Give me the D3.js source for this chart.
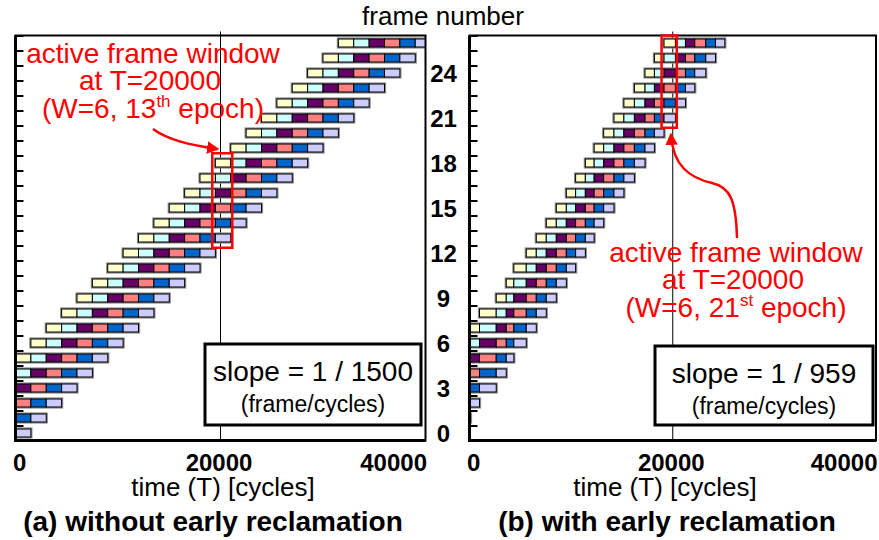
<!DOCTYPE html>
<html>
<head>
<meta charset="utf-8">
<script src="https://cdn.jsdelivr.net/npm/d3@7"></script>
<style>
  body { margin: 0; background: #fff; }
  svg { display: block; font-family: "Liberation Sans", Arial, sans-serif; }
</style>
</head>
<body>
<svg id="chart" width="879" height="540"></svg>
<script>
// frame rows and tick labels
const frames = [0, 1, 2, 3, 4, 5, 6, 7, 8, 9, 10, 11, 12, 13, 14, 15, 16, 17, 18, 19, 20, 21, 22, 23, 24, 25, 26];
const frameTicks = [0, 3, 6, 9, 12, 15, 18, 21, 24];
const timeTicks = [0, 20000, 40000];
const markT = 20000;

// epoch boundaries (cycles)
const epochA = [0, 1500, 3000, 4500, 6000, 7500, 9000, 10500, 12000, 13500, 15000, 16500, 18000, 19500,
  21000, 22500, 24000, 25500, 27000, 28500, 30000, 31500, 33000, 34500, 36000, 37500, 39000, 40500];
const epochB = [0, 100, 985, 2630, 3616, 4364, 5586, 6571, 7556, 8542, 9527, 10443, 11399, 12266,
  13202, 14216, 15192, 16226, 17270, 18196, 19142, 20265, 21251, 22167, 23251, 24206, 25123];

// active window annotations: [from, to] cycles, [lowest, highest] frame
const windowTimeA = [19200, 21150];
const windowFrameA = [13, 18];
const windowTimeB = [18900, 20400];
const windowFrameB = [21, 26];

const stageColors = ["#ffffcc", "#ccffff", "#660066", "#ff8080", "#0066cc", "#ccccff"];

const svg = d3.select("#chart");
const defs = svg.append("defs");
defs.append("marker")
    .attr("id", "head")
    .attr("viewBox", "0 0 10 10")
    .attr("refX", 8).attr("refY", 5)
    .attr("markerWidth", 5).attr("markerHeight", 5)
    .attr("orient", "auto")
    .append("path").attr("d", "M0,0L10,5L0,10z").attr("fill", "#ff0000");

const y = d3.scaleLinear().domain([-0.5, 26.5]).range([440.5, 35.5]);
const barH = 8;

const panels = [
    {
        id: "a", x0: 15.5, x1: 425.5, epochs: epochA, lag: 5,
        win: windowTimeA, winF: windowFrameA,
        note: { cx: 153, y: 63, n: "13", sup: "th" },
        arrow: "M153,129 C168,140 190,145 217,149",
        box: { x: 205, y: 344, w: 216, h: 81 }, slope: "slope = 1 / 1500",
        label: 223, title: "(a) without early reclamation", titleX: 213
    },
    {
        id: "b", x0: 469.5, x1: 876, epochs: epochB, lag: 6,
        win: windowTimeB, winF: windowFrameB,
        note: { cx: 736, y: 262, n: "21", sup: "st" },
        arrow: "M737,238 C736,200 730,187 712,183 C690,178 673,166 671,135",
        box: { x: 655, y: 346, w: 218, h: 79 }, slope: "slope = 1 / 959",
        label: 665, title: "(b) with early reclamation", titleX: 667
    }
];

panels.forEach(p => {
    const x = d3.scaleLinear().domain([0, 40000]).range([p.x0, p.x1]);
    const top = y.range()[1], bottom = y.range()[0];

    defs.append("clipPath").attr("id", "clip-" + p.id)
        .append("rect").attr("x", p.x0).attr("y", top).attr("width", p.x1 - p.x0).attr("height", bottom - top);

    const g = svg.append("g");

    // T = 20000 marker line
    g.append("line")
        .attr("x1", x(markT)).attr("x2", x(markT))
        .attr("y1", top - 4).attr("y2", bottom)
        .attr("stroke", "#000").attr("stroke-width", 1);

    // bars: frame f, stage j spans epoch k = f + j - lag
    const bars = g.append("g").attr("clip-path", `url(#clip-${p.id})`);
    frames.forEach(f => {
        const segs = [];
        stageColors.forEach((c, j) => {
            const k = f + j - p.lag;
            if (k < 0 || k + 1 >= p.epochs.length) return;
            segs.push({ a: p.epochs[k], b: p.epochs[k + 1], c: c });
        });
        if (!segs.length) return;
        const yc = y(f);
        bars.append("rect")
            .attr("x", x(segs[0].a)).attr("y", yc - barH / 2)
            .attr("width", x(segs[segs.length - 1].b) - x(segs[0].a)).attr("height", barH)
            .attr("fill", "none").attr("stroke", "#8a8a8a").attr("stroke-width", 3.2);
        bars.selectAll(null).data(segs).enter().append("rect")
            .attr("x", d => x(d.a)).attr("y", yc - barH / 2)
            .attr("width", d => x(d.b) - x(d.a)).attr("height", barH)
            .attr("fill", d => d.c).attr("stroke", "#000").attr("stroke-width", 1);
    });

    // ticks on the left axis, between frame rows
    g.append("g").attr("transform", `translate(${p.x0},0)`)
        .call(d3.axisRight(y).tickValues([-0.5].concat(frames.map(f => f + 0.5))).tickSize(8).tickFormat(""))
        .call(s => s.select(".domain").remove())
        .selectAll("line").attr("stroke", "#000").attr("stroke-width", 2);

    // plot frame
    g.append("rect").attr("x", p.x0).attr("y", top).attr("width", p.x1 - p.x0).attr("height", bottom - top)
        .attr("fill", "none").attr("stroke", "#000").attr("stroke-width", 2);
    g.append("path").attr("d", `M${p.x0},${top}V${bottom}H${p.x1}`)
        .attr("fill", "none").attr("stroke", "#000").attr("stroke-width", 3);

    // x axis labels
    const xa = g.append("g").attr("transform", `translate(0,${bottom})`)
        .call(d3.axisBottom(x).tickValues(timeTicks).tickSize(0).tickPadding(13).tickFormat(d3.format("d")));
    xa.select(".domain").remove();
    xa.selectAll("text")
        .attr("font-size", 24).attr("font-weight", "bold").attr("font-family", null).attr("fill", "#000")
        .attr("text-anchor", (d, i) => i === 0 ? "start" : i === timeTicks.length - 1 ? "end" : "middle")
        .attr("x", (d, i) => i === 0 ? -3 : i === timeTicks.length - 1 ? 1 : -2);

    if (p.id === "b") {
        const ya = g.append("g").attr("transform", `translate(${p.x0},0)`)
            .call(d3.axisLeft(y).tickValues(frameTicks).tickSize(0));
        ya.select(".domain").remove();
        ya.selectAll("text")
            .attr("font-size", 24).attr("font-weight", "bold").attr("font-family", null).attr("fill", "#000")
            .attr("text-anchor", "middle").attr("x", -26).attr("dy", "0.36em");
    }

    // active frame window
    g.append("rect")
        .attr("x", x(p.win[0])).attr("y", Math.max(top, y(p.winF[1] + 0.65)))
        .attr("width", x(p.win[1]) - x(p.win[0]))
        .attr("height", y(p.winF[0] - 0.65) - Math.max(top, y(p.winF[1] + 0.65)))
        .attr("fill", "none").attr("stroke", "#ff0000").attr("stroke-width", 2.5);

    // red note and arrow
    const note = g.append("g").attr("fill", "#ff0000").attr("font-size", 28).attr("text-anchor", "middle");
    note.append("text").attr("x", p.note.cx).attr("y", p.note.y).text("active frame window");
    note.append("text").attr("x", p.note.cx - 3).attr("y", p.note.y + 27).text("at T=20000");
    const t3 = note.append("text").attr("x", p.note.cx).attr("y", p.note.y + 55);
    t3.append("tspan").text("(W=6, " + p.note.n);
    t3.append("tspan").attr("font-size", 17).attr("dy", -11).text(p.note.sup);
    t3.append("tspan").attr("dy", 11).text(" epoch)");
    g.append("path").attr("d", p.arrow)
        .attr("fill", "none").attr("stroke", "#ff0000").attr("stroke-width", 2.5)
        .attr("marker-end", "url(#head)");

    // slope box
    const b = p.box;
    g.append("rect").attr("x", b.x).attr("y", b.y).attr("width", b.w).attr("height", b.h)
        .attr("fill", "#fff").attr("stroke", "#000").attr("stroke-width", 3);
    g.append("text").attr("x", b.x + b.w / 2).attr("y", b.y + 37)
        .attr("text-anchor", "middle").attr("font-size", 28).text(p.slope);
    g.append("text").attr("x", b.x + b.w / 2).attr("y", b.y + 68)
        .attr("text-anchor", "middle").attr("font-size", 23).text("(frame/cycles)");

    // axis title and panel caption
    g.append("text").attr("x", p.label).attr("y", 496)
        .attr("text-anchor", "middle").attr("font-size", 26).text("time (T) [cycles]");
    g.append("text").attr("x", p.titleX).attr("y", 531)
        .attr("text-anchor", "middle").attr("font-size", 28).attr("font-weight", "bold").text(p.title);
});

svg.append("text").attr("x", 443).attr("y", 25)
    .attr("text-anchor", "middle").attr("font-size", 26).text("frame number");
</script>
</body>
</html>
